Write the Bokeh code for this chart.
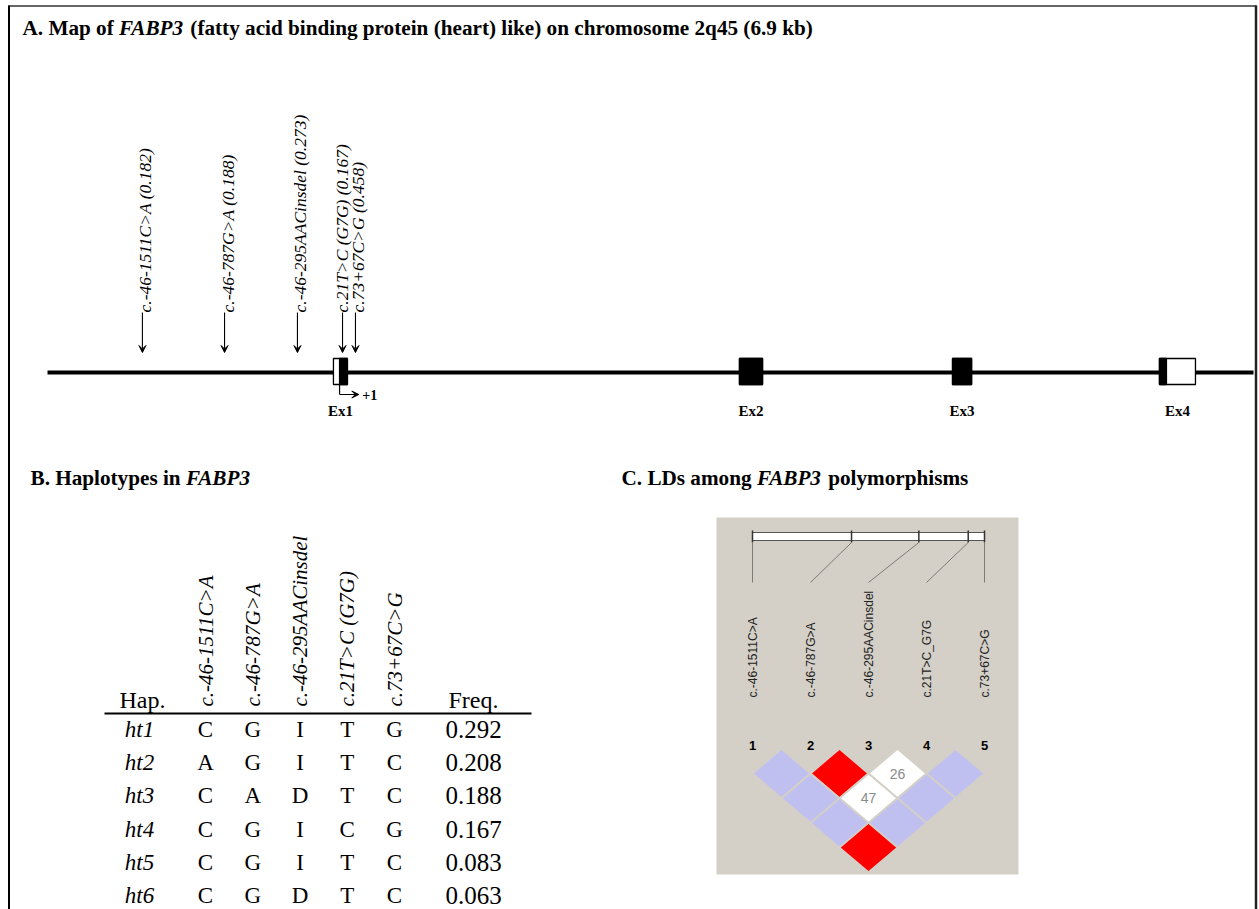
import numpy as np
from bokeh.plotting import figure
from bokeh.models import Range1d, ColumnDataSource, Arrow, VeeHead
from bokeh.core.properties import value
from bokeh.embed import file_html
from bokeh.resources import INLINE

W, H = 1259, 909
SERIF = value("Liberation Serif")
SANS = value("Liberation Sans")

# ---------------- data ----------------
# gene map (schematic positions along the 6.9 kb locus, in kb)
GENE_KB = 6.9
snp_map_names = ["c.-46-1511C>A", "c.-46-787G>A", "c.-46-295AACinsdel",
                 "c.21T>C (G7G)", "c.73+67C>G"]
snp_maf = [0.182, 0.188, 0.273, 0.167, 0.458]
snp_map_kb = [0.543, 1.013, 1.430, 1.688, 1.762]

exon_names = ["Ex1", "Ex2", "Ex3", "Ex4"]
exon_start_kb = [1.636, 3.959, 5.178, 6.362]
exon_end_kb = [1.716, 4.091, 5.287, 6.568]
cds_start_kb = [1.671, 3.959, 5.178, 6.362]
cds_end_kb = [1.716, 4.091, 5.287, 6.402]
tss_kb = 1.671

# haplotypes
hap_ids = ["ht1", "ht2", "ht3", "ht4", "ht5", "ht6"]
hap_alleles = ["CGITG", "AGITC", "CADTC", "CGICG", "CGITC", "CGDTC"]
hap_freq = [0.292, 0.208, 0.188, 0.167, 0.083, 0.063]

# LD (Haploview) : marker positions relative to c.-46 (bp)
ld_names = ["c.-46-1511C>A", "c.-46-787G>A", "c.-46-295AACinsdel",
            "c.21T>C_G7G", "c.73+67C>G"]
snp_bp = [-1511, -787, -295, 66, 185]
ld_i = [1, 2, 3, 4, 1, 2, 3, 1, 2, 1]
ld_j = [2, 3, 4, 5, 3, 4, 5, 4, 5, 5]
ld_dprime = [1.0, 1.0, 0.26, 1.0, 1.0, 0.47, 1.0, 1.0, 1.0, 1.0]
ld_lod_high = [False, True, False, False, False, False, False, False, False, True]

# ---------------- layout constants (px) ----------------
LINE_X0, LINE_X1, LINE_Y = 47, 1253, 372
EX_TOP, EX_BOT = 358, 384
ARROW_Y0, ARROW_Y1 = 312, 352
LABEL_NUDGE = [3, 3, 3, -1, 3]   # keeps the two close labels apart

p = figure(width=W, height=H, x_range=Range1d(0, W), y_range=Range1d(H, 0),
           min_border=0, toolbar_location=None, output_backend="svg")
p.axis.visible = False
p.grid.visible = False
p.outline_line_color = None
p.background_fill_color = "white"
p.border_fill_color = "white"

px_per_kb = (LINE_X1 - LINE_X0) / GENE_KB
p.extra_x_ranges["kb"] = Range1d(-LINE_X0 / px_per_kb, (W - LINE_X0) / px_per_kb)

BAR_X0, BAR_X1 = 752, 984
px_per_bp = (BAR_X1 - BAR_X0) / (snp_bp[-1] - snp_bp[0])
p.extra_x_ranges["bp"] = Range1d(snp_bp[0] - BAR_X0 / px_per_bp,
                                 snp_bp[0] + (W - BAR_X0) / px_per_bp)

# frame
p.segment(x0=[8], y0=[5.5], x1=[1256], y1=[5.5], line_color="#333333", line_width=1.5)
p.segment(x0=[8.5], y0=[5], x1=[8.5], y1=[H], line_color="black", line_width=2)
p.segment(x0=[1255.5], y0=[5], x1=[1255.5], y1=[H], line_color="#222222", line_width=2.5)

# ---------------- titles ----------------
SPACE_EM = 0.25


def title(x, y, parts, size=21.2):
    # parts: (text, style, width_em) placed one after the other
    cx = x
    for txt, style, w in parts:
        lead = len(txt) - len(txt.lstrip(" "))
        cx += lead * SPACE_EM * size
        p.text(x=[cx], y=[y], text=[txt.strip(" ")], text_font=SERIF,
               text_font_size=f"{size}px", text_font_style=style, text_align="left",
               text_baseline="middle", text_color="black")
        cx += (w - lead * SPACE_EM) * size


title(22, 27, [("A. Map of ", "bold", 4.555), ("FABP3", "bold italic", 3.112),
               (" (fatty acid binding protein (heart) like) on chromosome 2q45 (6.9 kb)", "bold", 0)])
title(30, 477, [("B. Haplotypes in ", "bold", 7.335), ("FABP3", "bold italic", 0)])
title(621, 477, [("C. LDs among ", "bold", 6.389), ("FABP3", "bold italic", 3.112),
                 (" polymorphisms", "bold", 0)])

# ---------------- A: gene map ----------------
p.segment(x0=[0], y0=[LINE_Y], x1=[GENE_KB], y1=[LINE_Y], x_range_name="kb",
          line_color="black", line_width=4)
p.quad(left=exon_start_kb, right=exon_end_kb, top=EX_TOP, bottom=EX_BOT,
       x_range_name="kb", fill_color="white", line_color="black", line_width=1.3)
p.quad(left=cds_start_kb, right=cds_end_kb, top=EX_TOP, bottom=EX_BOT,
       x_range_name="kb", fill_color="black", line_color="black", line_width=1.3)
ex_mid = [(a + b) / 2 for a, b in zip(exon_start_kb, exon_end_kb)]
p.text(x=ex_mid, y=410, text=exon_names, x_range_name="kb", text_font=SERIF,
       text_font_size="15px", text_font_style="bold", text_align="center",
       text_baseline="middle", text_color="black")

# transcription start
p.segment(x0=[tss_kb], y0=[EX_BOT], x1=[tss_kb], y1=[394], x_range_name="kb",
          line_color="black", line_width=1.2)
p.add_layout(Arrow(x_start=tss_kb, y_start=394, x_end=tss_kb + 0.11, y_end=394,
                   x_range_name="kb", line_width=1.2,
                   end=VeeHead(size=7, fill_color="black", line_color="black")))
p.text(x=[tss_kb + 0.13], y=[394], text=["+1"], x_range_name="kb", text_font=SERIF,
       text_font_size="14px", text_font_style="bold", text_align="left",
       text_baseline="middle", text_color="black")

# SNP arrows and labels
snp_src = ColumnDataSource(dict(
    x=snp_map_kb, y0=[ARROW_Y0] * 5, y1=[ARROW_Y1] * 5, dx=LABEL_NUDGE,
    label=[f"{n} ({m:.3f})" for n, m in zip(snp_map_names, snp_maf)]))
p.add_layout(Arrow(source=snp_src, x_start="x", y_start="y0", x_end="x", y_end="y1",
                   x_range_name="kb", line_width=1.1,
                   end=VeeHead(size=7, fill_color="black", line_color="black")))
p.text(x="x", y="y0", text="label", source=snp_src, x_range_name="kb", angle=np.pi / 2,
       x_offset="dx", text_font=SERIF, text_font_size="17.5px", text_font_style="italic",
       text_align="left", text_baseline="middle", text_color="black")

# ---------------- B: haplotype table ----------------
col_x = [205 + 47.25 * k for k in range(5)]
HAP_X, FREQ_X = 142, 473
ROW_Y0, ROW_DY = 729, 33.2
HEAD_Y = 706

p.text(x=col_x, y=HEAD_Y, text=snp_map_names, angle=np.pi / 2, text_font=SERIF,
       text_font_size="21px", text_font_style="italic", text_align="left",
       text_baseline="middle", text_color="black")
p.text(x=[HAP_X, FREQ_X], y=[699, 699], text=["Hap.", "Freq."],
       text_font=SERIF, text_font_size="24px", text_align="center",
       text_baseline="middle", text_color="black")
p.segment(x0=[104], y0=[713], x1=[531], y1=[713], line_color="black", line_width=2.2)

row_y = [ROW_Y0 + ROW_DY * k for k in range(len(hap_ids))]
p.text(x=HAP_X - 3, y=row_y, text=hap_ids, text_font=SERIF, text_font_size="23px",
       text_font_style="italic", text_align="center", text_baseline="middle",
       text_color="black")
cell_x, cell_y, cell_t = [], [], []
for ry, alle in zip(row_y, hap_alleles):
    for cx, a in zip(col_x, alle):
        cell_x.append(cx)
        cell_y.append(ry)
        cell_t.append(a)
p.text(x=cell_x, y=cell_y, text=cell_t, text_font=SERIF, text_font_size="23px",
       text_align="center", text_baseline="middle", text_color="black")
p.text(x=FREQ_X, y=row_y, text=[f"{f:.3f}" for f in hap_freq], text_font=SERIF,
       text_font_size="25px", text_align="center", text_baseline="middle",
       text_color="black")

# ---------------- C: LD plot ----------------
GRAY = "#d4d0c8"
p.quad(left=[716], right=[1018], top=[517], bottom=[874], fill_color=GRAY, line_color=None)

p.quad(left=[snp_bp[0]], right=[snp_bp[-1]], top=[532], bottom=[540], x_range_name="bp",
       fill_color="white", line_color="#555555", line_width=1)
p.segment(x0=snp_bp, y0=530, x1=snp_bp, y1=542, x_range_name="bp",
          line_color="#333333", line_width=1.5)

MK_X0, MK_DX = 752, 58
mk_x = [MK_X0 + MK_DX * k for k in range(5)]
mk_bp = [snp_bp[0] + (mx - BAR_X0) / px_per_bp for mx in mk_x]
p.segment(x0=snp_bp, y0=542, x1=mk_bp, y1=582, x_range_name="bp",
          line_color="#7a7a7a", line_width=1)

p.text(x=mk_x, y=697, text=ld_names, angle=np.pi / 2, text_font=SANS,
       text_font_size="12px", text_align="left", text_baseline="middle",
       text_color="#222222")
p.text(x=mk_x, y=745, text=[str(k + 1) for k in range(5)], text_font=SANS,
       text_font_size="13px", text_font_style="bold", text_align="center",
       text_baseline="middle", text_color="black")

D_Y0, HW, HH = 773, MK_DX / 2, 24.7
xs, ys, cols, lx, ly, lt = [], [], [], [], [], []
for i, j, d, hi in zip(ld_i, ld_j, ld_dprime, ld_lod_high):
    cx = (mk_x[i - 1] + mk_x[j - 1]) / 2
    cy = D_Y0 + (j - i - 1) * HH
    xs.append([cx - HW, cx, cx + HW, cx])
    ys.append([cy, cy - HH, cy, cy + HH])
    if d >= 1.0:
        cols.append("#ff0000" if hi else "#c0c0f0")
    else:
        cols.append("white")
        lx.append(cx)
        ly.append(cy)
        lt.append(str(int(round(d * 100))))
p.patches(xs=xs, ys=ys, fill_color=cols, line_color=GRAY, line_width=1.8)
p.text(x=lx, y=ly, text=lt, text_font=SANS, text_font_size="14px", text_align="center",
       text_baseline="middle", text_color="#8a8a8a")

open("out.html", "w").write(file_html(p, INLINE))
